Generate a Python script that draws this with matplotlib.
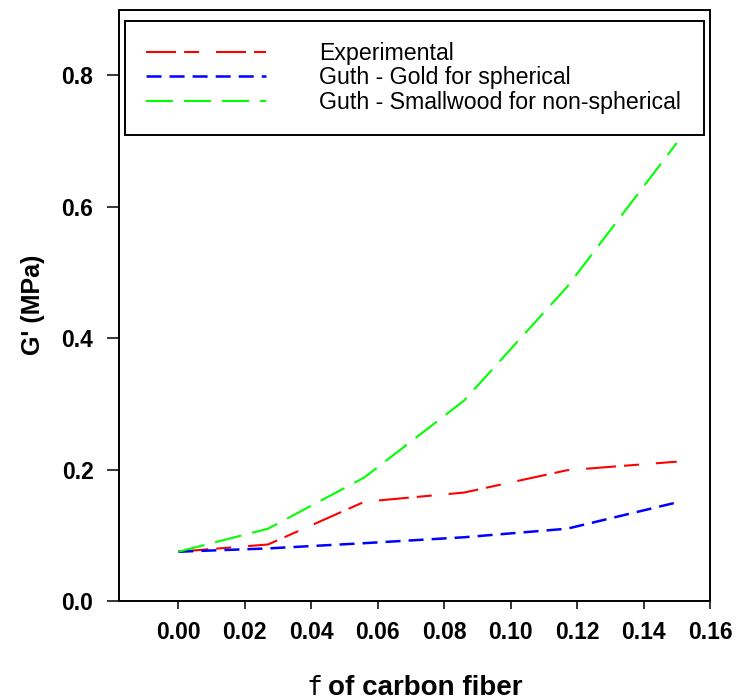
import matplotlib
matplotlib.use("Agg")
import matplotlib.pyplot as plt

plt.rcParams['font.family'] = ['Liberation Sans', 'DejaVu Sans']
plt.rcParams['lines.scale_dashes'] = False

# Data
fraction = [0.0, 0.027, 0.056, 0.086, 0.117, 0.15]
experimental = [0.075, 0.086, 0.151, 0.165, 0.199, 0.212]
guth_gold = [0.075, 0.080, 0.088, 0.097, 0.110, 0.150]
guth_smallwood = [0.075, 0.110, 0.188, 0.305, 0.478, 0.697]
series_labels = ["Experimental", "Guth - Gold for spherical",
                 "Guth - Smallwood for non-spherical"]
x_ticks = [0.00, 0.02, 0.04, 0.06, 0.08, 0.10, 0.12, 0.14, 0.16]
y_ticks = [0.0, 0.2, 0.4, 0.6, 0.8]

W, H = 736, 700
fig = plt.figure(figsize=(W / 100, H / 100), dpi=100)
L, R, T, B = 118.5, 710, 9.5, 601
ax = fig.add_axes([L / W, 1 - B / H, (R - L) / W, (B - T) / H])

ax.plot(fraction, experimental, color='#FF0000', lw=1.5,
        dashes=(21.6, 5.8, 10.8, 12.2), label=series_labels[0])
ax.plot(fraction, guth_gold, color='#0000FF', lw=1.8,
        dashes=(10.8, 5.8), label=series_labels[1])
ax.plot(fraction, guth_smallwood, color='#00FF00', lw=1.5,
        dashes=(19.4, 8.0), label=series_labels[2])

ax.set_xlim(-0.018, 0.16)
ax.set_ylim(0, 0.9)
ax.set_xticks(x_ticks)
ax.set_xticklabels([f"{t:.2f}" for t in x_ticks])
ax.set_yticks(y_ticks)
ax.set_yticklabels([f"{t:.1f}" for t in y_ticks])

for lab in ax.get_xticklabels() + ax.get_yticklabels():
    lab.set_fontweight('bold')
    lab.set_fontsize(16.5)
ax.tick_params(axis='y', direction='out', length=8.4, width=1.1, pad=9.6)
ax.tick_params(axis='x', direction='out', length=5.5, width=1.1, pad=9)
for s in ax.spines.values():
    s.set_linewidth(1.4)
    s.set_capstyle('butt')

ax.set_ylabel("G' (MPa)", fontsize=18, fontweight='bold', labelpad=12)

# x label: symbol 'f' + bold text, centred under the axes
t1 = fig.text(0, 1 - 688 / H, "f", fontsize=19, family='DejaVu Sans Mono',
              ha='left', va='center')
t2 = fig.text(0, 1 - 688 / H, "of carbon fiber", fontsize=20,
              fontweight='bold', ha='left', va='center')
fig.canvas.draw()
r = fig.canvas.get_renderer()
w1 = t1.get_window_extent(r).width
w2 = t2.get_window_extent(r).width
gap = 6
total = w1 + gap + w2
cx = (L + R) / 2
x0 = cx - total / 2
t1.set_x(x0 / W)
t2.set_x((x0 + w1 + gap) / W)

# Legend box in axes fraction
lx0 = (125 - L) / (R - L)
lx1 = (704 - L) / (R - L)
ly1 = (B - 21) / (B - T)
ly0 = (B - 133) / (B - T)
leg = ax.legend(loc='upper left', bbox_to_anchor=(lx0, ly0, lx1 - lx0, ly1 - ly0),
                mode='expand', borderaxespad=0, fancybox=False,
                edgecolor='black', framealpha=1, fontsize=16.7,
                handlelength=5.2, handletextpad=2.25, borderpad=0.9,
                labelspacing=0.07)
leg.get_frame().set_linewidth(1.4)

fig.savefig("out.png", dpi=100)
